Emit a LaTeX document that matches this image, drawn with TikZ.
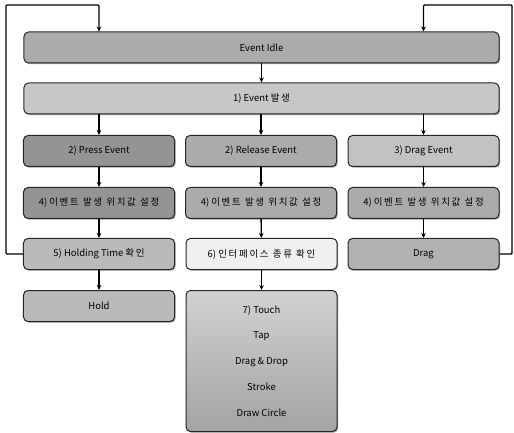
\documentclass[tikz,border=0pt]{standalone}
\usepackage{fontspec}
\setmainfont{Noto Sans CJK KR}
\newfontfamily\krfont{Noto Sans CJK KR}[LetterSpace=18, WordSpace=1.1]
\usetikzlibrary{arrows.meta,shadows}
\begin{document}
\begin{tikzpicture}[x=1bp,y=-1bp,
  box/.style={draw=black!85, line width=1bp, rounded corners=4.5bp,
    font=\fontsize{9.5}{11}\selectfont, text=black,
    minimum height=31bp, inner sep=0pt,
    drop shadow={shadow xshift=1.2bp, shadow yshift=-1.2bp, fill=black!45, opacity=0.8}},
  wide/.style={box, minimum width=475bp},
  col/.style={box, minimum width=151bp},
  arr/.style={line width=1.4bp, -{Stealth[length=5bp,width=4.5bp]}},
  fb/.style={line width=1.4bp, rounded corners=1bp, -{Stealth[length=5bp,width=4.5bp]}}]
\useasboundingbox (0,0) rectangle (514,433);
% boxes
\node[wide, fill=black!33] (idle) at (261.5,47.5) {Event Idle};
\node[wide, fill=black!22] (occur) at (261.5,98.5) {1) Event {\krfont 발생}};
\node[col, fill=black!42] (press) at (99,151) {2) Press Event};
\node[col, fill=black!33] (release) at (261,151) {2) Release Event};
\node[col, fill=black!24] (dragev) at (423.5,151) {3) Drag Event};
\node[col, fill=black!42] (set1) at (99,203) {4) {\krfont 이벤트 발생 위치값 설정}};
\node[col, fill=black!33] (set2) at (261,203) {4) {\krfont 이벤트 발생 위치값 설정}};
\node[col, fill=black!33] (set3) at (423.5,203) {4) {\krfont 이벤트 발생 위치값 설정}};
\node[col, fill=black!27] (holdtime) at (99,254) {5) Holding Time {\krfont 확인}};
\node[col, fill=black!6] (iface) at (261.5,254) {6) {\krfont 인터페이스 종류 확인}};
\node[col, fill=black!30] (drag) at (423.5,254) {Drag};
\node[col, fill=black!27] (hold) at (99,306) {Hold};
\node[col, minimum height=141bp, top color=black!18, bottom color=black!36,
      align=center, font=\fontsize{9.5}{26}\selectfont] (touch) at (261.5,361)
      {7) Touch\\Tap\\Drag \& Drop\\Stroke\\Draw Circle};
% connectors
\draw[arr] (idle) -- (occur);
\draw[arr] (occur.south -| press.north) -- (press);
\draw[arr] (occur.south -| release.north) -- (release);
\draw[arr] (occur.south -| dragev.north) -- (dragev);
\draw[arr] (press) -- (set1);
\draw[arr] (release) -- (set2);
\draw[arr] (dragev) -- (set3);
\draw[arr] (set1) -- (holdtime);
\draw[arr] (set2) -- (iface);
\draw[arr] (set3) -- (drag);
\draw[arr] (holdtime) -- (hold);
\draw[arr] (iface) -- (touch);
\coordinate (lt) at (6,5);
\coordinate (rt) at (512,5);
\draw[fb] (holdtime.west) -| (lt) -| (idle.north -| press.north);
\draw[fb] (drag.east) -| (rt) -| (idle.north -| dragev.north);
\end{tikzpicture}
\end{document}
